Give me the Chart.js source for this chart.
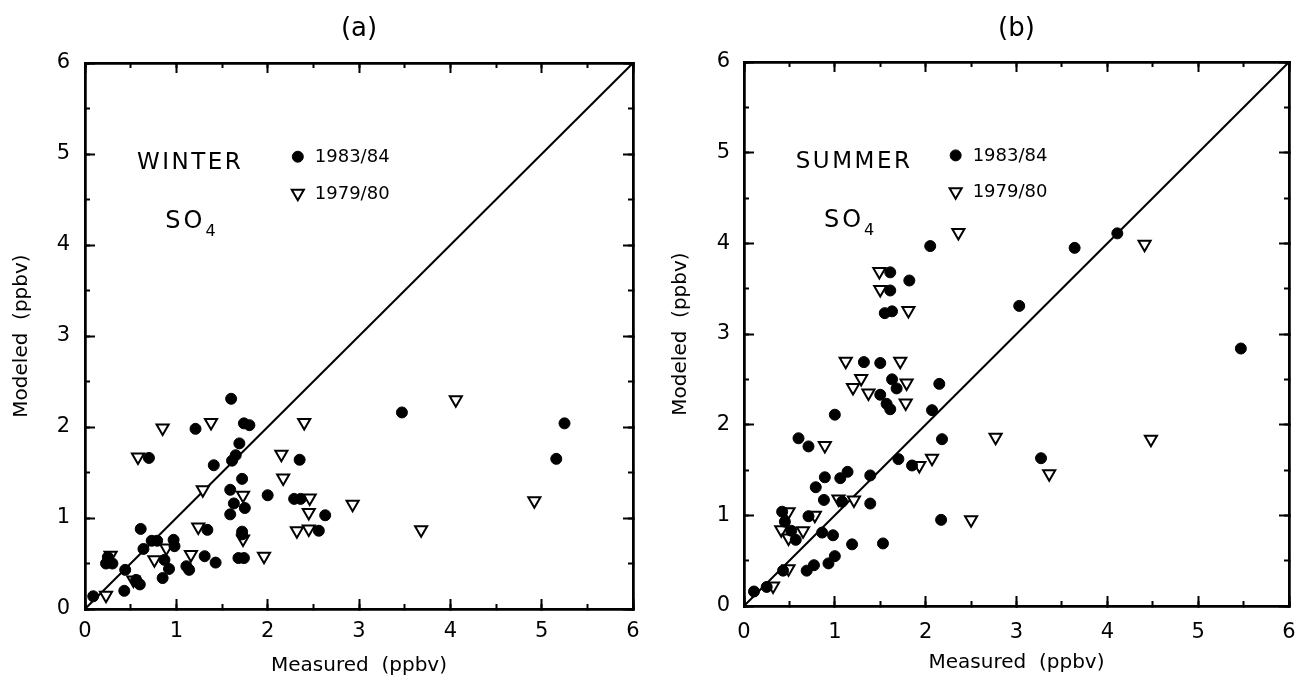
<!DOCTYPE html>
<html>
<head>
<meta charset="utf-8">
<title>SO4 modeled vs measured</title>
<script src="https://cdn.jsdelivr.net/npm/chart.js@4.4.1/dist/chart.umd.min.js"></script>
<style>
  body { margin: 0; background: #fff; }
  .panel { position: absolute; top: 0; }
</style>
</head>
<body>
<div class="panel" style="left:0"><canvas id="chart_a" width="649" height="684"></canvas></div>
<div class="panel" style="left:649px"><canvas id="chart_b" width="649" height="684"></canvas></div>
<script>
/* axis ticks */
var axisTicks = [0, 1, 2, 3, 4, 5, 6];
var oneToOneX = [0, 6];
var oneToOneY = [0, 6];

/* (a) winter, 1983/84 */
var winterX8384 = [1.60, 1.21, 1.74, 1.80, 0.70, 1.69, 1.65, 1.61, 1.41, 1.72, 1.59, 1.63, 1.75, 1.59, 2.00, 2.29, 2.36,
  2.35, 0.61, 1.34, 1.72, 1.72, 1.68, 1.74, 1.31, 1.43, 0.73, 0.79, 0.97, 0.98, 0.64, 0.87, 0.92, 0.85, 1.11, 1.14,
  0.44, 0.43, 0.56, 0.60, 0.23, 0.30, 0.25, 0.09, 3.47, 5.25, 5.16, 2.63, 2.56];
var winterY8384 = [2.31, 1.98, 2.04, 2.02, 1.66, 1.82, 1.69, 1.63, 1.58, 1.43, 1.31, 1.16, 1.11, 1.04, 1.25, 1.21, 1.21,
  1.64, 0.88, 0.87, 0.85, 0.82, 0.56, 0.56, 0.58, 0.51, 0.75, 0.75, 0.76, 0.69, 0.66, 0.54, 0.44, 0.34, 0.47, 0.43,
  0.43, 0.20, 0.32, 0.27, 0.50, 0.50, 0.57, 0.14, 2.16, 2.04, 1.65, 1.03, 0.86];
/* (a) winter, 1979/80 */
var winterX7980 = [0.85, 1.38, 2.40, 0.58, 2.15, 2.17, 1.29, 1.73, 2.46, 2.45, 2.45, 2.32, 1.24, 1.73, 0.89, 0.76, 1.16,
  1.96, 0.53, 0.23, 0.28, 4.06, 4.92, 2.93, 3.68];
var winterY7980 = [1.99, 2.05, 2.05, 1.67, 1.70, 1.44, 1.31, 1.25, 1.22, 1.06, 0.88, 0.86, 0.90, 0.77, 0.67, 0.54, 0.60,
  0.58, 0.32, 0.15, 0.59, 2.30, 1.19, 1.15, 0.87];

/* (b) summer, 1983/84 */
var summerX8384 = [2.05, 1.61, 1.82, 1.61, 1.55, 1.63, 1.32, 1.50, 1.63, 1.68, 1.50, 1.57, 1.61, 2.15, 2.07, 1.00, 0.60,
  0.71, 2.18, 1.70, 1.85, 0.89, 1.06, 1.14, 1.39, 0.79, 0.88, 1.08, 1.39, 0.42, 0.45, 0.71, 2.17, 0.52, 0.57, 0.86,
  0.98, 1.19, 1.53, 1.00, 0.93, 0.69, 0.77, 0.43, 0.25, 0.11, 3.64, 4.11, 3.03, 5.47, 3.27];
var summerY8384 = [3.97, 3.68, 3.59, 3.48, 3.23, 3.25, 2.69, 2.68, 2.50, 2.40, 2.33, 2.23, 2.17, 2.45, 2.16, 2.11, 1.85,
  1.76, 1.84, 1.62, 1.55, 1.42, 1.41, 1.48, 1.44, 1.31, 1.17, 1.15, 1.13, 1.04, 0.93, 0.99, 0.95, 0.83, 0.73, 0.81,
  0.78, 0.68, 0.69, 0.55, 0.47, 0.39, 0.45, 0.39, 0.21, 0.16, 3.95, 4.11, 3.31, 2.84, 1.63];
/* (b) summer, 1979/80 */
var summerX7980 = [2.36, 1.49, 1.50, 1.81, 1.12, 1.72, 1.29, 1.20, 1.37, 1.79, 1.78, 0.89, 1.93, 2.07, 0.49, 1.04, 1.21,
  0.41, 0.49, 0.65, 0.78, 0.49, 0.32, 2.50, 4.41, 2.77, 4.48, 3.36];
var summerY7980 = [4.12, 3.69, 3.49, 3.26, 2.70, 2.70, 2.51, 2.41, 2.35, 2.46, 2.24, 1.77, 1.55, 1.63, 1.04, 1.18, 1.17,
  0.84, 0.75, 0.83, 1.00, 0.41, 0.22, 0.95, 3.99, 1.86, 1.84, 1.46];

/* text placed in data units */
var seasonAt = [0.57, 4.9];
var speciesAt = [0.88, 4.25];
var legendAt = [2.33, 4.97, 4.57];

Chart.defaults.font.family = '"DejaVu Sans", sans-serif';
Chart.defaults.color = '#000';

function toPoints(xs, ys) {
  var pts = [];
  for (var i = 0; i < xs.length; i++) pts.push({ x: xs[i], y: ys[i] });
  return pts;
}

// draws WINTER / SO4 and the small key inside the frame
var notesPlugin = {
  id: 'notes',
  afterDatasetsDraw: function (chart, args, o) {
    var ctx = chart.ctx, sx = chart.scales.x, sy = chart.scales.y;
    ctx.save();
    ctx.fillStyle = '#000';
    ctx.textBaseline = 'middle';
    ctx.textAlign = 'left';
    ctx.font = '23px "DejaVu Sans"';
    ctx.letterSpacing = '2.5px';
    ctx.fillText(o.season, sx.getPixelForValue(seasonAt[0]), sy.getPixelForValue(seasonAt[1]));
    var px = sx.getPixelForValue(speciesAt[0]), py = sy.getPixelForValue(speciesAt[1]);
    ctx.font = '24px "DejaVu Sans"';
    ctx.letterSpacing = '3px';
    ctx.fillText('SO', px, py);
    var w = ctx.measureText('SO').width;
    ctx.font = '16px "DejaVu Sans"';
    ctx.letterSpacing = '0px';
    ctx.fillText('4', px + w, py + 10);

    var mx = sx.getPixelForValue(legendAt[0]);
    var rows = [legendAt[1], legendAt[2]];
    var sets = chart.data.datasets.filter(function (d) { return d.label; });
    ctx.font = '18px "DejaVu Sans"';
    sets.forEach(function (d, i) {
      var my = sy.getPixelForValue(rows[i]);
      ctx.fillStyle = d.backgroundColor;
      ctx.strokeStyle = d.borderColor;
      ctx.lineWidth = d.borderWidth;
      Chart.helpers.drawPoint(ctx, {
        pointStyle: d.pointStyle, radius: d.pointRadius, rotation: d.pointRotation || 0, borderWidth: d.borderWidth
      }, mx, my);
      ctx.fillStyle = '#000';
      ctx.fillText(d.label, mx + 17, my + 1);
    });
    ctx.restore();
  }
};

function edgeScale(position, step, tickLen, size, weight) {
  return {
    type: 'linear', position: position, min: 0, max: 6, weight: weight,
    ticks: { stepSize: step, display: false },
    grid: { drawOnChartArea: false, drawTicks: true, tickLength: -tickLen, tickWidth: 2, tickColor: '#000' },
    border: { display: true, color: '#000', width: 2.5 },
    afterFit: function (s) { if (s.isHorizontal()) s.height = size; else s.width = size; }
  };
}

function show_panel(canvas_id, p) {
  var ctx = document.getElementById(canvas_id).getContext('2d');
  return new Chart(ctx, {
    type: 'scatter',
    data: {
      datasets: [{
        data: toPoints(oneToOneX, oneToOneY),
        showLine: true, pointRadius: 0, borderColor: '#000', borderWidth: 2, order: 3
      }, {
        label: '1983/84',
        data: toPoints(p.x8384, p.y8384),
        pointStyle: 'circle', pointRadius: 5.5, backgroundColor: '#000', borderColor: '#000', borderWidth: 1, order: 1
      }, {
        label: '1979/80',
        data: toPoints(p.x7980, p.y7980),
        pointStyle: 'triangle', pointRotation: 180, pointRadius: 7, backgroundColor: '#fff', borderColor: '#000',
        borderWidth: 2, order: 2
      }]
    },
    plugins: [notesPlugin],
    options: {
      responsive: false,
      animation: false,
      events: [],
      layout: { padding: 0 },
      plugins: {
        legend: { display: false },
        tooltip: { enabled: false },
        notes: { season: p.season }
      },
      scales: {
        x: {
          type: 'linear', position: 'bottom', min: 0, max: 6, weight: 2,
          afterBuildTicks: function (s) { s.ticks = axisTicks.map(function (v) { return { value: v }; }); },
          ticks: { padding: p.xPad, font: { size: 21 }, maxRotation: 0, autoSkip: false },
          grid: { drawOnChartArea: false, tickLength: -10, tickWidth: 2, tickColor: '#000' },
          border: { color: '#000', width: 2.5 },
          title: { display: true, text: 'Measured  (ppbv)', font: { size: 20 }, padding: { top: 0, bottom: p.xTitlePad } },
          afterFit: function (s) { s.height = p.bottom; s.paddingLeft = 0; s.paddingRight = 0; }
        },
        xMinor: edgeScale('bottom', 0.5, 5, 0, 1),
        y: {
          type: 'linear', position: 'left', min: 0, max: 6, weight: 2,
          afterBuildTicks: function (s) { s.ticks = axisTicks.map(function (v) { return { value: v }; }); },
          ticks: { padding: p.yPad, font: { size: 21 }, autoSkip: false },
          grid: { drawOnChartArea: false, tickLength: -10, tickWidth: 2, tickColor: '#000' },
          border: { color: '#000', width: 2.5 },
          title: { display: true, text: 'Modeled  (ppbv)', font: { size: 20 }, padding: { top: p.yTitlePad, bottom: 0 } },
          afterFit: function (s) { s.width = p.left; s.paddingTop = 0; s.paddingBottom = 0; }
        },
        yMinor: edgeScale('left', 0.5, 5, 0, 1),
        xTop: Object.assign(edgeScale('top', 1, 10, p.top, 2), {
          title: { display: true, text: p.tag, font: { size: 26 }, padding: { top: 14, bottom: 0 } }
        }),
        xTopMinor: edgeScale('top', 0.5, 5, 0, 1),
        yRight: edgeScale('right', 1, 10, p.right, 2),
        yRightMinor: edgeScale('right', 0.5, 5, 0, 1)
      }
    }
  });
}

show_panel('chart_a', {
  tag: '(a)', season: 'WINTER',
  x8384: winterX8384, y8384: winterY8384, x7980: winterX7980, y7980: winterY7980,
  left: 85, top: 63, right: 16, bottom: 75,
  xPad: 20, yPad: 25, xTitlePad: 6, yTitlePad: 10
});
show_panel('chart_b', {
  tag: '(b)', season: 'SUMMER',
  x8384: summerX8384, y8384: summerY8384, x7980: summerX7980, y7980: summerY7980,
  left: 95, top: 62, right: 9, bottom: 78,
  xPad: 24, yPad: 24, xTitlePad: 9, yTitlePad: 20
});
</script>
</body>
</html>
